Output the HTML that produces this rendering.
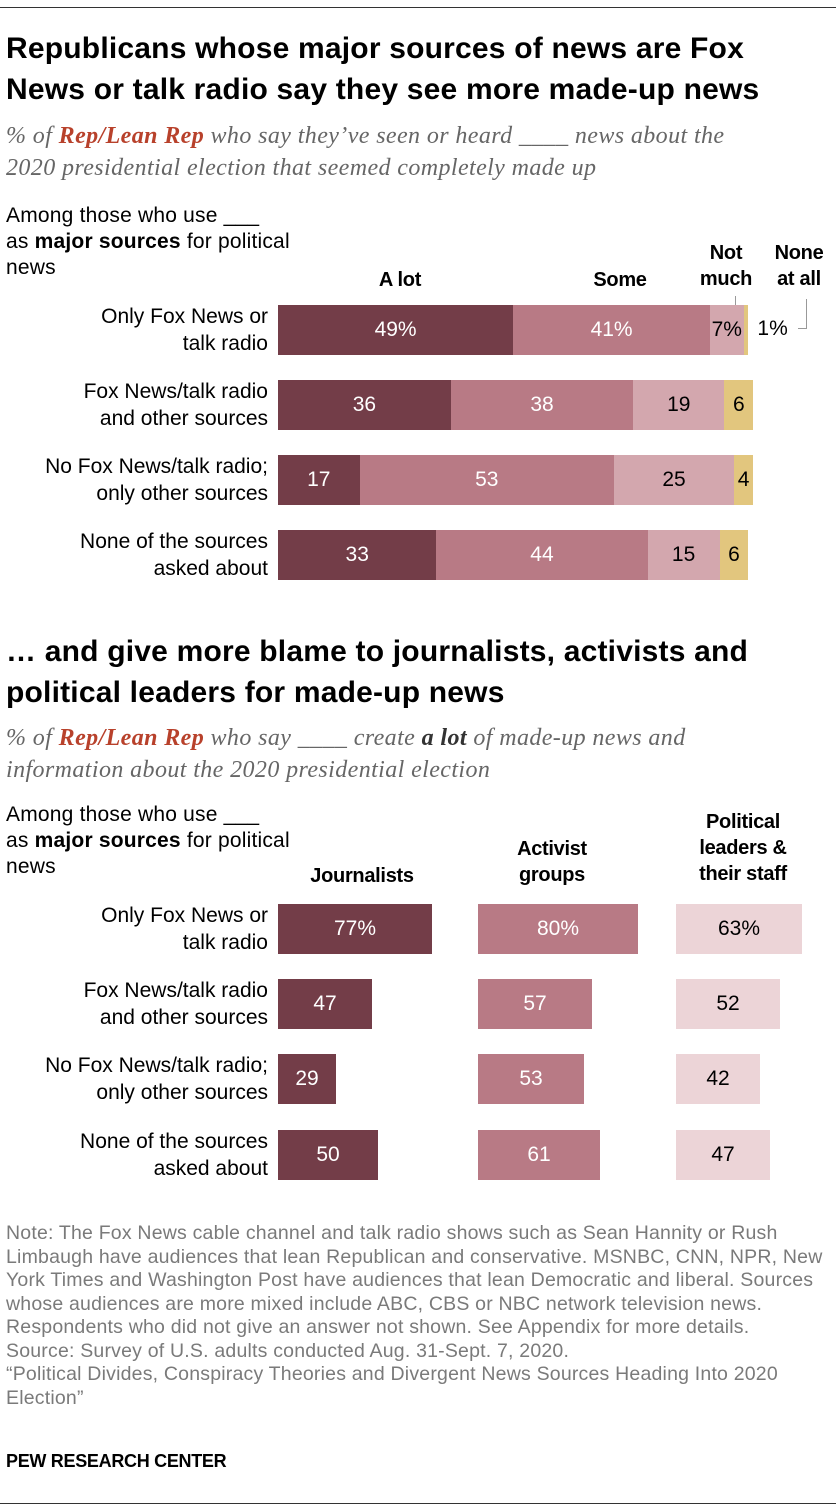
<!DOCTYPE html>
<html><head><meta charset="utf-8"><style>
body{margin:0;width:836px;height:1512px;background:#fff;font-family:"Liberation Sans",Arial,sans-serif;position:relative;overflow:hidden;color:#000}
.a{position:absolute}
.t{font-weight:bold;font-size:30px;line-height:41px;left:6px;letter-spacing:0.2px;white-space:nowrap}
.s{font-family:"Liberation Serif",serif;font-style:italic;font-size:24px;line-height:32px;color:#666;left:6px;letter-spacing:0.4px;white-space:nowrap}
.s b{color:#b8412b}
.s i{color:#333;font-weight:bold}
.rl{font-size:21px;line-height:27px;text-align:right;right:568px;width:300px}
.hd{font-size:21px;line-height:26px;left:6px;letter-spacing:0.2px}
.ch{font-weight:bold;font-size:20px;line-height:26px;text-align:center;letter-spacing:-0.3px;white-space:nowrap}
.bar{position:absolute;display:flex;align-items:center;justify-content:center;font-size:21px}
.n{font-size:19.5px;line-height:23.5px;color:#7a7a7a;left:6px;width:830px;white-space:nowrap;letter-spacing:0.2px}
</style></head><body>
<div class="a" style="left:0;top:7px;width:836px;height:1px;background:#333"></div>
<div class="a t" style="top:28px">Republicans whose major sources of news are Fox<br>News or talk radio say they see more made-up news</div>
<div class="a s" style="top:120px">% of <b>Rep/Lean Rep</b> who say they’ve seen or heard ____ news about the<br>2020 presidential election that seemed completely made up</div>
<div class="a hd" style="top:203px">Among those who use ___<br>as <b>major sources</b> for political<br>news</div>
<div class="a ch" style="left:340px;width:120px;top:267px">A lot</div>
<div class="a ch" style="left:560px;width:120px;top:267px">Some</div>
<div class="a ch" style="left:691px;width:70px;top:240px">Not<br>much</div>
<div class="a ch" style="left:764px;width:70px;top:240px">None<br>at all</div>
<div class="a" style="left:735px;top:296px;width:1px;height:14px;background:#999"></div>
<div class="a" style="left:806px;top:299px;width:1px;height:29px;background:#999"></div>
<div class="a" style="left:798px;top:328px;width:9px;height:1px;background:#999"></div>
<div id="c1"></div>

<div class="a t" style="top:631px">… and give more blame to journalists, activists and<br>political leaders for made-up news</div>
<div class="a s" style="top:722px">% of <b>Rep/Lean Rep</b> who say ____ create <i>a lot</i> of made-up news and<br>information about the 2020 presidential election</div>
<div class="a hd" style="top:802px">Among those who use ___<br>as <b>major sources</b> for political<br>news</div>
<div class="a ch" style="left:282px;width:160px;top:863px">Journalists</div>
<div class="a ch" style="left:472px;width:160px;top:836px">Activist<br>groups</div>
<div class="a ch" style="left:663px;width:160px;top:809px">Political<br>leaders &amp;<br>their staff</div>
<div id="c2"></div>

<div class="a n" style="top:1222px">Note: The Fox News cable channel and talk radio shows such as Sean Hannity or Rush<br>Limbaugh have audiences that lean Republican and conservative. MSNBC, CNN, NPR, New<br>York Times and Washington Post have audiences that lean Democratic and liberal. Sources<br>whose audiences are more mixed include ABC, CBS or NBC network television news.<br>Respondents who did not give an answer not shown. See Appendix for more details.<br>Source: Survey of U.S. adults conducted Aug. 31-Sept. 7, 2020.<br>“Political Divides, Conspiracy Theories and Divergent News Sources Heading Into 2020<br>Election”</div>
<div class="a" style="left:6px;top:1451px;font-weight:bold;font-size:18px;letter-spacing:-0.3px">PEW RESEARCH CENTER</div>
<div class="a" style="left:0;top:1503px;width:836px;height:1px;background:#333"></div>

<script>
const rows=["Only Fox News or<br>talk radio","Fox News/talk radio<br>and other sources","No Fox News/talk radio;<br>only other sources","None of the sources<br>asked about"];
const aLot=[49,36,17,33];
const some=[41,38,53,44];
const notMuch=[7,19,25,15];
const noneAll=[1,6,4,6];
const journalists=[77,47,29,50];
const activists=[80,57,53,61];
const politicians=[63,52,42,47];
const c1Top=[305,380,455,530];
const c2Top=[904,979,1054,1130];
function x1(v){return v*4.8;}
function x2(v){return v*2.0;}
const c1=document.getElementById('c1'),c2=document.getElementById('c2');
const cols=['#733d48','#b87a85','#d3a7ae','#e2c67e'];
const series=[aLot,some,notMuch,noneAll];
const sNames=['a-lot','some','not-much','none-at-all'];
rows.forEach((r,i)=>{
  const l=document.createElement('div');l.className='a rl';l.innerHTML=r;l.style.top=(c1Top[i]-2)+'px';
  
  
  c1.appendChild(l);
  let x=278;
  series.forEach((s,k)=>{
    const w=x1(s[i]);const b=document.createElement('div');b.className='bar';
    b.style.cssText=`left:${x}px;top:${c1Top[i]}px;width:${w}px;height:50px;background:${cols[k]};color:${k<2?'#fff':'#000'}`;
    
    
    const txt=s[i]+(i==0?'%':'');
    if(i==0&&k==3){const o=document.createElement('div');o.className='a';o.style.cssText=`left:${x+w+9}px;top:${c1Top[i]+12}px;font-size:21px`;o.textContent=txt;
      
      
      c1.appendChild(o);}
    else b.textContent=txt;
    c1.appendChild(b);x+=w;
  });
  const l2=document.createElement('div');l2.className='a rl';l2.innerHTML=r;l2.style.top=(c2Top[i]-2)+'px';
  
  
  c2.appendChild(l2);
  [[journalists,278,'#733d48','#fff','journalists'],[activists,478,'#b87a85','#fff','activists'],[politicians,676,'#ecd4d7','#000','political-leaders']].forEach(([s,x0,c,fc,nm])=>{
    const b=document.createElement('div');b.className='bar';
    b.style.cssText=`left:${x0}px;top:${c2Top[i]}px;width:${x2(s[i])}px;height:50px;background:${c};color:${fc}`;
    b.textContent=s[i]+(i==0?'%':'');
    
    
    c2.appendChild(b);
  });
});
</script>
</body></html>
